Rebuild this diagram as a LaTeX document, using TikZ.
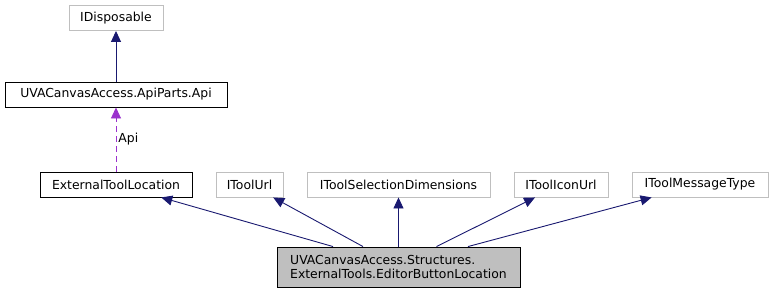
\documentclass[tikz,border=0pt]{standalone}
\usepackage{fontspec}
\setmainfont{DejaVu Sans}
\usetikzlibrary{arrows.meta}

\definecolor{edgeblue}{HTML}{191970}
\definecolor{usepurple}{HTML}{9A32CD}
\definecolor{boxgrey}{HTML}{BFBFBF}

\begin{document}
\begin{tikzpicture}[x=1pt,y=-1pt,
    font=\fontsize{12.4}{14}\selectfont,
    cls/.style={draw=black,line width=0.9pt,inner xsep=4pt,minimum height=25pt},
    iface/.style={draw=boxgrey,line width=0.9pt,inner xsep=4pt,minimum height=25pt},
    inh/.style={edgeblue,line width=0.9pt,-{Triangle[length=11pt,width=10pt]}},
    use/.style={usepurple,line width=0.9pt,dash pattern=on 6pt off 4pt,-{Triangle[length=11pt,width=10pt]}}]
    \useasboundingbox (0,0) rectangle (773,293);
    % top chain
    \node [iface,minimum width=94pt] (idisp) at (116,18) {IDisposable};
    \node [cls,minimum width=222pt] (api) at (116,94.5) {UVACanvasAccess.ApiParts.Api};
    % base types of the editor button
    \node [cls,minimum width=152pt] (etl) at (116,184.5) {ExternalToolLocation};
    \node [iface,minimum width=67pt] (url) at (249.5,184.5) {IToolUrl};
    \node [iface,minimum width=183pt] (seldim) at (398.5,184.5) {IToolSelectionDimensions};
    \node [iface,minimum width=94pt] (icon) at (561,184.5) {IToolIconUrl};
    \node [iface,minimum width=136pt] (msg) at (700,184.5) {IToolMessageType};
    \node [cls,fill=boxgrey,align=left,inner xsep=11pt,minimum width=243pt,minimum height=40pt] (ebl) at (398.5,267)
      {UVACanvasAccess.Structures.\\ExternalTools.EditorButtonLocation};
    % edges
    \draw [inh] (api) -- (idisp);
    \draw [use] (etl) -- node [right,black,inner sep=2pt] {Api} (api);
    \draw [inh] ([xshift=-65.5pt]ebl.north) -- (etl);
    \draw [inh] ([xshift=-35.5pt]ebl.north) -- (url);
    \draw [inh] (ebl) -- (seldim);
    \draw [inh] ([xshift=38pt]ebl.north) -- (icon);
    \draw [inh] ([xshift=69.5pt]ebl.north) -- (msg);
\end{tikzpicture}
\end{document}
